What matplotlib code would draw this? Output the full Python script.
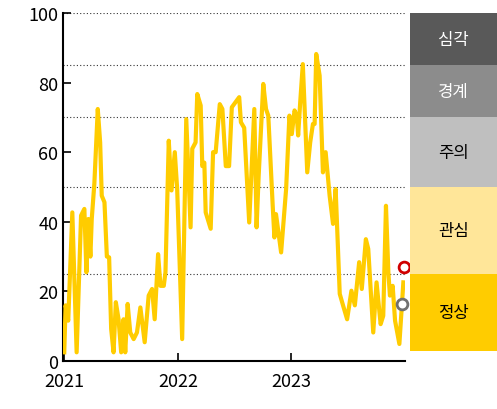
import matplotlib
matplotlib.use("Agg")
import matplotlib.pyplot as plt

plt.rcParams['font.family'] = ['Noto Sans CJK KR', 'DejaVu Sans']

t_offset = [0,.012,.035,.071,.109,.148,.177,.195,.212,.230,.242,.265,.295,.316,.330,.354,.375,.395,.413,.434,
            .454,.478,.501,.522,.537,.558,.581,.611,.640,.670,.708,.743,.773,.796,.826,.847,.876,.891,.920,.944,
            .973,.994,1.038,1.074,1.112,1.127,1.156,1.171,1.201,1.215,1.233,1.245,1.289,1.310,1.333,1.369,1.392,
            1.422,1.451,1.475,1.540,1.555,1.584,1.628,1.673,1.693,1.711,1.752,1.776,1.796,1.835,1.850,1.864,1.909,
            1.953,1.982,2.003,2.027,2.047,2.059,2.077,2.100,2.139,2.165,2.189,2.204,2.218,2.248,2.277,2.301,2.336,
            2.366,2.389,2.425,2.454,2.490,2.528,2.558,2.596,2.619,2.655,2.676,2.720,2.749,2.785,2.808,2.832,2.853,
            2.867,2.891,2.912,2.950,2.985]
values = [2.5,16,11.6,42.7,2.5,41.8,43.7,25.5,40.8,30,40.8,51,72.4,62.8,47.5,45.6,30,29.8,9.2,2.5,
          16.9,12,2.5,12,2.5,16.4,8.2,6.3,8.2,15.4,5.4,18.8,20.7,12,30.7,21.6,21.6,25.5,63.3,49,
          60,49.4,6.3,69.5,38.4,61,62.8,76.7,73.4,56,57,42.7,38,60,60,73.8,72.4,
          56,56,72.9,75.8,68.6,67,39.8,72.4,38.4,53,79.6,72.4,70.5,44.6,35.5,42.2,31.2,
          49.4,70.5,65.2,72,70.5,64.8,74.3,85.3,54.2,62.8,68.1,68.1,88.2,82,54.2,60,47.5,
          39.4,49.4,19.3,16,12,20.2,16,28.4,20.7,35,32.2,8.2,22.6,10.6,13,44.6,25.5,
          18.8,21.6,11.6,4.9,22.6]
dates = [2021 + o for o in t_offset]
red_pt = (2021 + 2.995, 27)
gray_pt = (2021 + 2.97, 16.4)

thresholds = [25, 50, 70, 85, 100]
band_labels = ['정상', '관심', '주의', '경계', '심각']
band_edges = [3, 25, 50, 70, 85, 100]
band_colors = ['#ffcc00', '#ffe699', '#bfbfbf', '#8c8c8c', '#595959']
band_text = ['black', 'black', 'black', 'white', 'white']
years = [2021, 2022, 2023]

fig = plt.figure(figsize=(4.97, 4.10), dpi=100)
ax = fig.add_axes([0.127, 0.117, 0.688, 0.849])
ax.plot(dates, values, color='#ffcc00', lw=3, zorder=3, solid_joinstyle='round')
ax.scatter(*red_pt, s=60, facecolor='white', edgecolor='#d00000', lw=2, zorder=4, clip_on=False)
ax.scatter(*gray_pt, s=60, facecolor='white', edgecolor='#707070', lw=2, zorder=4, clip_on=False)
for th in thresholds:
    ax.axhline(th, color='#333333', lw=0.8, ls=(0, (1, 2)), zorder=1)
ax.set_xlim(2020.99, 2024.0)
ax.set_ylim(0, 100)
ax.set_xticks(years)
ax.set_xticklabels([str(y) for y in years])
ax.set_yticks([0, 20, 40, 60, 80, 100])
ax.tick_params(labelsize=13, length=6, width=1.2, direction='in')
ax.tick_params(axis='x', pad=8)
for s in ['top', 'right']:
    ax.spines[s].set_visible(False)
for s in ['left', 'bottom']:
    ax.spines[s].set_linewidth(1.5)

bx = fig.add_axes([0.825, 0.117, 0.175, 0.849])
bx.set_xlim(0, 1)
bx.set_ylim(0, 100)
bx.axis('off')
for i, lab in enumerate(band_labels):
    lo, hi = band_edges[i], band_edges[i + 1]
    bx.bar(0.5, hi - lo, bottom=lo, width=1, color=band_colors[i], lw=0)
    bx.text(0.5, (lo + hi) / 2, lab, ha='center', va='center', fontsize=12, color=band_text[i])

fig.savefig('out.png', dpi=100)
